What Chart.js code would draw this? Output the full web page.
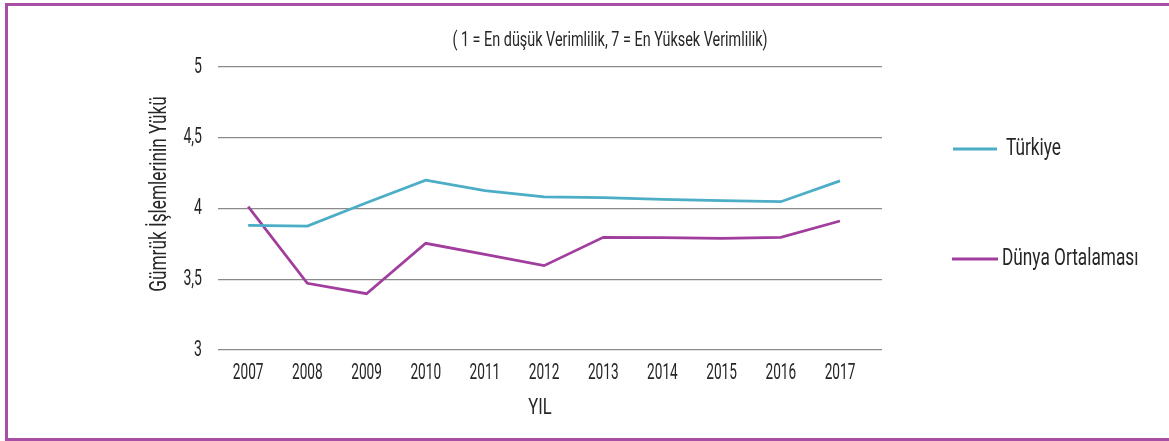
<!DOCTYPE html>
<html>
<head>
<meta charset="utf-8">
<script src="https://cdn.jsdelivr.net/npm/chart.js@4"></script>
<style>
  html, body { margin: 0; padding: 0; background: #fff; }
  #wrap { position: relative; width: 1169px; height: 441px; overflow: hidden; }
  #frame { position: absolute; left: 5px; top: 3px; width: 1180px; height: 432px; border: 3px solid #A64FA5; box-sizing: content-box; }
  canvas { position: absolute; left: 0; top: 0; }
</style>
</head>
<body>
<div id="wrap">
  <div id="frame"></div>
  <canvas id="c" width="1169" height="441"></canvas>
</div>
<script>
const years = [2007, 2008, 2009, 2010, 2011, 2012, 2013, 2014, 2015, 2016, 2017];
const turkiye = [3.88, 3.876, 4.04, 4.2, 4.126, 4.083, 4.076, 4.065, 4.055, 4.048, 4.195];
const dunya = [4.013, 3.471, 3.398, 3.754, 3.676, 3.596, 3.796, 3.794, 3.789, 3.796, 3.912];
const yTicks = [3, 3.5, 4, 4.5, 5];
const seriesNames = ['Türkiye', 'Dünya Ortalaması'];
const seriesColors = ['#4BADC6', '#A13D9D'];
const chartTitle = '( 1 = En düşük Verimlilik, 7 = En Yüksek Verimlilik)';
const yTitle = 'Gümrük İşlemlerinin Yükü';
const xTitle = 'YIL';

const FONT = 'Roboto, "Liberation Sans", sans-serif';
const TEXT = '#262626';

function narrowText(ctx, text, x, y, align, size, sx) {
  ctx.save();
  ctx.font = size + 'px ' + FONT;
  ctx.fillStyle = TEXT;
  ctx.textBaseline = 'middle';
  const w = ctx.measureText(text).width * sx;
  let left = x;
  if (align === 'center') left = x - w / 2;
  else if (align === 'right') left = x - w;
  ctx.translate(left, y);
  ctx.scale(sx, 1);
  ctx.textAlign = 'left';
  ctx.fillText(text, 0, 0);
  ctx.restore();
}

const extras = {
  id: 'extras',
  afterDraw(chart) {
    const ctx = chart.ctx;
    const xs = chart.scales.x, ys = chart.scales.y;
    // tick labels through the scales
    xs.ticks.forEach(t => narrowText(ctx, String(t.value), xs.getPixelForValue(t.value), 373, 'center', 22, 0.62));
    ys.ticks.forEach(t => narrowText(ctx, String(t.value).replace('.', ','), 202, ys.getPixelForValue(t.value), 'right', 22, 0.64));
    // titles
    narrowText(ctx, chartTitle, 610, 41, 'center', 20, 0.72);
    narrowText(ctx, xTitle, 540, 408, 'center', 22, 0.75);
    ctx.save();
    ctx.translate(160, 194);
    ctx.rotate(-Math.PI / 2);
    narrowText(ctx, yTitle, 0, 0, 'center', 23, 0.75);
    ctx.restore();
    // legend
    const legendY = [149, 259];
    const legendX = [[953, 997, 1006], [952, 998, 1002]];
    chart.data.datasets.forEach((ds, i) => {
      ctx.save();
      ctx.strokeStyle = ds.borderColor;
      ctx.lineWidth = 3;
      ctx.beginPath();
      ctx.moveTo(legendX[i][0], legendY[i]);
      ctx.lineTo(legendX[i][1], legendY[i]);
      ctx.stroke();
      ctx.restore();
      narrowText(ctx, ds.label, legendX[i][2], legendY[i], 'left', 23, 0.75);
    });
  }
};

new Chart(document.getElementById('c'), {
  type: 'line',
  data: {
    datasets: [
      { label: seriesNames[0], data: years.map((y, i) => ({ x: y, y: turkiye[i] })), borderColor: seriesColors[0], backgroundColor: seriesColors[0], borderWidth: 2.75, pointRadius: 0, tension: 0 },
      { label: seriesNames[1], data: years.map((y, i) => ({ x: y, y: dunya[i] })), borderColor: seriesColors[1], backgroundColor: seriesColors[1], borderWidth: 2.75, pointRadius: 0, tension: 0 }
    ]
  },
  options: {
    responsive: false,
    animation: false,
    devicePixelRatio: 1,
    layout: { padding: { left: 0, right: 287, top: 67, bottom: 41 } },
    plugins: { legend: { display: false }, tooltip: { enabled: false }, title: { display: false } },
    scales: {
      x: {
        type: 'linear',
        min: 2006.49,
        max: 2017.71,
        afterBuildTicks(scale) { scale.ticks = years.map(v => ({ value: v })); },
        afterFit(scale) { scale.height = 50; },
        grid: { display: false, drawTicks: false },
        border: { display: false },
        ticks: { display: false }
      },
      y: {
        min: 3,
        max: 5,
        afterBuildTicks(scale) { scale.ticks = yTicks.map(v => ({ value: v })); },
        afterFit(scale) { scale.width = 218; },
        grid: { color: '#8a8a8a', lineWidth: 1.3, drawTicks: false },
        border: { display: false },
        ticks: { display: false }
      }
    }
  },
  plugins: [extras]
});
</script>
</body>
</html>
